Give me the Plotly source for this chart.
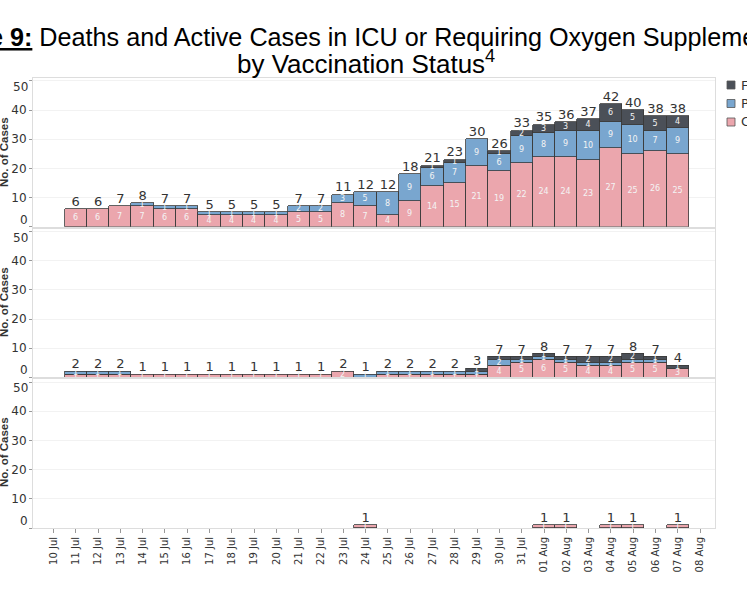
import plotly.graph_objects as go
from plotly.subplots import make_subplots

days = ["2021-07-11", "2021-07-12", "2021-07-13", "2021-07-14", "2021-07-15",
        "2021-07-16", "2021-07-17", "2021-07-18", "2021-07-19", "2021-07-20",
        "2021-07-21", "2021-07-22", "2021-07-23", "2021-07-24", "2021-07-25",
        "2021-07-26", "2021-07-27", "2021-07-28", "2021-07-29", "2021-07-30",
        "2021-07-31", "2021-08-01", "2021-08-02", "2021-08-03", "2021-08-04",
        "2021-08-05", "2021-08-06", "2021-08-07"]

# top panel - requiring oxygen
o2_unvacc = [6, 6, 7, 7, 6, 6, 4, 4, 4, 4, 5, 5, 8, 7, 4, 9, 14, 15, 21, 19, 22, 24, 24, 23, 27, 25, 26, 25]
o2_partial = [0, 0, 0, 1, 1, 1, 1, 1, 1, 1, 2, 2, 3, 5, 8, 9, 6, 7, 9, 6, 9, 8, 9, 10, 9, 10, 7, 9]
o2_full = [0, 0, 0, 0, 0, 0, 0, 0, 0, 0, 0, 0, 0, 0, 0, 0, 1, 1, 0, 1, 2, 3, 3, 4, 6, 5, 5, 4]

# middle panel - ICU
icu_unvacc = [1, 1, 1, 1, 1, 1, 1, 1, 1, 1, 1, 1, 2, 0, 1, 1, 1, 1, 1, 4, 5, 6, 5, 4, 4, 5, 5, 3]
icu_partial = [1, 1, 1, 0, 0, 0, 0, 0, 0, 0, 0, 0, 0, 1, 1, 1, 1, 1, 1, 2, 1, 1, 1, 1, 1, 1, 1, 0]
icu_full = [0, 0, 0, 0, 0, 0, 0, 0, 0, 0, 0, 0, 0, 0, 0, 0, 0, 0, 1, 1, 1, 1, 1, 2, 2, 2, 1, 1]

# bottom panel - deaths
death_days = ["2021-07-24", "2021-08-01", "2021-08-02", "2021-08-04", "2021-08-05", "2021-08-07"]
death_unvacc = [1, 1, 1, 1, 1, 1]

legend_names = ["Fully Vaccinated", "Partially Vaccinated", "Completely Unvaccinated"]

C_FULL = "#4b5058"
C_PART = "#79a6cf"
C_UNV = "#eba6ad"
EDGE = "#3a3a3a"
DAY = 86400000

W, H = 747, 598
ML, MR, MT, MB = 33, 32, 78, 70
PW, PH = W - ML - MR, H - MT - MB


def px(x):
    return (x - ML) / PW


def py(y):
    return (H - MB - y) / PH


def seg(vals):
    return [v if v else None for v in vals]


def seg_text(vals):
    return [str(v) if v else "" for v in vals]


fig = make_subplots(rows=3, cols=1, shared_xaxes=True, vertical_spacing=0.004)

panels = [
    (1, days, [o2_unvacc, o2_partial, o2_full]),
    (2, days, [icu_unvacc, icu_partial, icu_full]),
    (3, death_days, [death_unvacc]),
]

for row, xs, stacks in panels:
    colors = [C_UNV, C_PART, C_FULL]
    for vals, col in zip(stacks, colors):
        fig.add_trace(go.Bar(
            x=xs, y=seg(vals), width=DAY,
            marker=dict(color=col, line=dict(color=EDGE, width=0.8)),
            text=seg_text(vals), textposition="inside", insidetextanchor="middle",
            constraintext="none", textangle=0,
            insidetextfont=dict(family="DejaVu Sans", size=8, color="#f4f4f4"),
            showlegend=False, hoverinfo="skip"), row=row, col=1)
    totals = [sum(t) for t in zip(*stacks)]
    fig.add_trace(go.Scatter(
        x=xs, y=totals, mode="text", text=[str(t) for t in totals],
        textposition="top center", cliponaxis=False,
        textfont=dict(family="DejaVu Sans", size=13, color="#333333"),
        showlegend=False, hoverinfo="skip"), row=row, col=1)

fig.update_layout(
    width=W, height=H, barmode="stack", bargap=0,
    margin=dict(l=ML, r=MR, t=MT, b=MB),
    plot_bgcolor="white", paper_bgcolor="white",
    font=dict(family="DejaVu Sans", color="#333333"),
)

fig.update_yaxes(range=[0, 51], tickvals=[0, 10, 20, 30, 40, 50],
                 ticktext=["", "10", "20", "30", "40", ""],
                 ticks="outside", ticklen=3, tickcolor="#999999",
                 tickfont=dict(family="DejaVu Sans", size=12, color="#333333"),
                 showgrid=True, gridcolor="#f2f2f2", zeroline=False,
                 showline=True, mirror=True, linecolor="#dddddd", linewidth=1)
fig.update_xaxes(type="date", range=["2021-07-09 02:00", "2021-08-08 16:00"],
                 tick0="2021-07-10", dtick=DAY, tickformat="%d %b",
                 showgrid=False, zeroline=False,
                 showline=True, mirror=True, linecolor="#dddddd", linewidth=1)
fig.update_xaxes(ticks="outside", ticklen=4, tickcolor="#999999", tickangle=-90,
                 tickfont=dict(family="DejaVu Sans", size=10, color="#333333"),
                 row=3, col=1)

annotations = []
for yref, centre in [("y", 152), ("y2", 302), ("y3", 452)]:
    annotations.append(dict(x=px(30), y=0, xref="paper", yref=yref, text="0",
                            xanchor="right", yanchor="middle", yshift=7, showarrow=False,
                            font=dict(family="DejaVu Sans", size=12, color="#333333")))
    annotations.append(dict(x=px(30), y=50, xref="paper", yref=yref, text="50",
                            xanchor="right", yanchor="middle", yshift=-6, showarrow=False,
                            font=dict(family="DejaVu Sans", size=12, color="#333333")))
    annotations.append(dict(x=px(4), y=py(centre), xref="paper", yref="paper",
                            text="<b>No. of Cases</b>", textangle=-90, showarrow=False,
                            xanchor="center", yanchor="middle",
                            font=dict(family="Liberation Sans", size=11.5, color="#333333")))

# title (cropped at both sides in the source image)
annotations.append(dict(x=px(379), y=py(37), xref="paper", yref="paper",
                        text="<b><u>Figure 9:</u></b> Deaths and Active Cases in ICU or "
                             "Requiring Oxygen Supplementation",
                        xanchor="center", yanchor="middle", showarrow=False,
                        font=dict(family="Liberation Sans", size=25.2, color="black")))
annotations.append(dict(x=px(366), y=py(63), xref="paper", yref="paper",
                        text="by Vaccination Status<sup>4</sup>",
                        xanchor="center", yanchor="middle", showarrow=False,
                        font=dict(family="Liberation Sans", size=26, color="black")))

# legend, cut off at the right edge
shapes = []
for i, (name, col) in enumerate(zip(legend_names, [C_FULL, C_PART, C_UNV])):
    yc = 85 + i * 18.5
    shapes.append(dict(type="rect", xref="paper", yref="paper",
                       x0=px(727), x1=px(735), y0=py(yc - 4), y1=py(yc + 4),
                       fillcolor=col, line=dict(color="#555555", width=0.8)))
    annotations.append(dict(x=px(739), y=py(yc), xref="paper", yref="paper",
                            text=name, xanchor="left", yanchor="middle", showarrow=False,
                            font=dict(family="DejaVu Sans", size=13, color="#333333")))

fig.update_layout(annotations=annotations, shapes=shapes)

# page margin off so the figure sits at the window's top-left corner
fig.write_html("out.html", config={"displayModeBar": False},
               post_script="document.body.style.margin='0';")
